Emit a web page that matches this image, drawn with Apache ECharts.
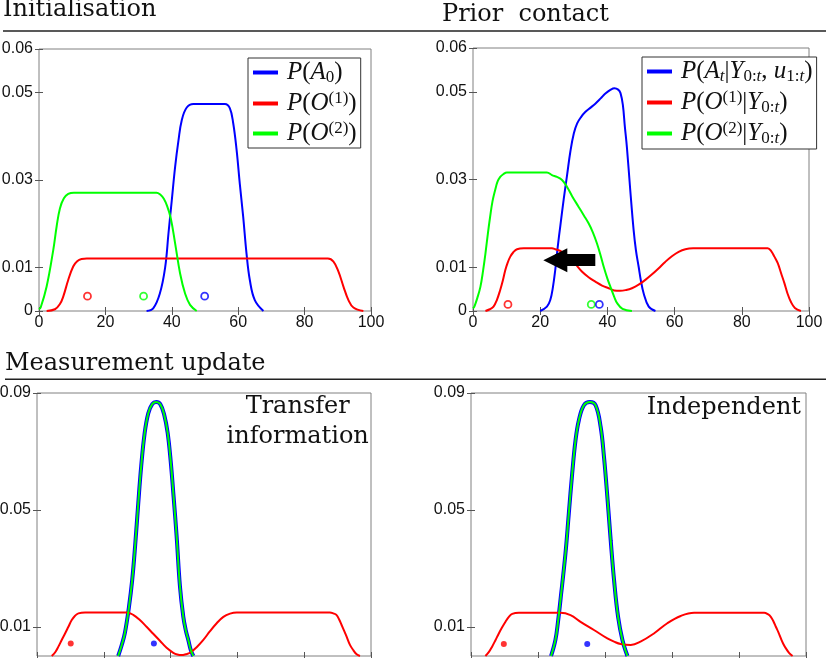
<!DOCTYPE html>
<html>
<head>
<meta charset="utf-8">
<script src="https://cdn.jsdelivr.net/npm/echarts@6/dist/echarts.min.js"></script>
</head>
<body style="margin:0;background:#fff">
<div id="main" style="width:827px;height:658px"></div>
<script>
// tick values / labels
var xTicks = [0, 20, 40, 60, 80, 100];
var yTicksTop = [0, 0.01, 0.03, 0.05, 0.06];
var yTicksBottom = [0.01, 0.05, 0.09];

// Initialisation
var initA0 = [[32.4,0],[34.4,0.0006],[36.4,0.004],[38,0.010],[39,0.0178],[40,0.0254],[41,0.033],[42,0.039],[43,0.0437],[44.5,0.0466],[46.5,0.0474],[56,0.0474],[57.5,0.0464],[58.5,0.043],[59.5,0.037],[60.5,0.029],[61.5,0.0216],[62.5,0.0132],[63.5,0.0071],[65,0.0025],[67.6,0]];
var initO1 = [[2.3,0],[4.8,0.0004],[6.3,0.0016],[7.3,0.0033],[8.8,0.0071],[10.3,0.0102],[11.5,0.0114],[12.8,0.0119],[14.4,0.012],[87,0.012],[88.7,0.0113],[90.2,0.009],[91.7,0.0056],[93.2,0.0025],[94.7,0.0008],[97.7,0]];
var initO2 = [[0,0.0004],[0.5,0.0008],[2.3,0.0056],[4.3,0.014],[5.3,0.0193],[6.3,0.0235],[7.5,0.0258],[8.8,0.0268],[10.5,0.0271],[35.4,0.0271],[36.6,0.0266],[37.6,0.0257],[38.6,0.024],[39.7,0.0212],[41,0.0155],[42.5,0.0086],[44,0.004],[45.5,0.0014],[47.5,0]];
var initMeanA0 = [[49.9,0.0034]];
var initMeanO1 = [[14.6,0.0034]];
var initMeanO2 = [[31.5,0.0034]];

// Prior contact
var priorA = [[20,0],[22,0.001],[23,0.0025],[23.8,0.0055],[24.5,0.0095],[25.2,0.0145],[26,0.0195],[27,0.0255],[28,0.031],[29,0.0365],[30,0.0405],[31,0.0428],[32.2,0.0443],[33.4,0.0454],[35,0.0464],[36.4,0.0473],[38,0.0485],[39.4,0.0496],[41,0.0505],[42.1,0.0508],[43.2,0.0505],[43.9,0.0497],[44.6,0.047],[45.2,0.042],[45.8,0.0374],[46.8,0.0276],[47.8,0.0185],[48.5,0.0138],[49.3,0.0101],[50,0.0068],[50.8,0.004],[52.3,0.001],[54.3,0]];
var priorO1 = [[3.7,0],[5,0.0004],[6.1,0.001],[7.1,0.0025],[8.1,0.0048],[8.9,0.007],[9.6,0.0093],[10.3,0.011],[11.1,0.0124],[12,0.0134],[13.1,0.0141],[15.1,0.0143],[23.5,0.0143],[24.5,0.0141],[26.5,0.0135],[28.5,0.0124],[30.5,0.0107],[32.4,0.009],[34.4,0.0077],[36.4,0.0067],[38.4,0.0058],[40.4,0.0052],[42,0.0047],[43.8,0.0046],[45.6,0.0048],[47.3,0.0052],[49.3,0.006],[51.3,0.0071],[53.2,0.0083],[55.2,0.0097],[57.2,0.0112],[59.2,0.0125],[61.2,0.0135],[63.2,0.0141],[65.5,0.0143],[87.7,0.0143],[88.8,0.0136],[89.7,0.0124],[90.7,0.0109],[91.7,0.0086],[92.7,0.0063],[93.6,0.004],[94.6,0.0021],[95.8,0.0007],[97.6,0]];
var priorO2 = [[0,0.0006],[0.4,0.001],[1.3,0.003],[2.2,0.0055],[3,0.0092],[3.7,0.0131],[4.4,0.0175],[5.1,0.0215],[5.8,0.025],[6.6,0.0276],[7.3,0.0295],[8.1,0.0306],[9,0.0312],[10.1,0.0316],[22,0.0316],[23.5,0.031],[25,0.0306],[26.5,0.0299],[28,0.0283],[29.5,0.0262],[31.4,0.0238],[33,0.0218],[34.4,0.02],[35.7,0.0179],[36.9,0.0154],[38,0.0126],[38.9,0.0101],[40,0.0074],[40.9,0.0055],[42,0.0033],[42.9,0.0018],[44.5,0.0005],[47.3,0]];
var priorMeanA = [[37.6,0.0015]];
var priorMeanO1 = [[10.4,0.0015]];
var priorMeanO2 = [[35.2,0.0015]];
var priorArrow = [[36.4,0.0116],[24.5,0.0116]];

// Measurement update: transfer information
var transA = [[24.3,0],[25.3,0.0035],[26.3,0.0078],[27.5,0.0165],[28.5,0.026],[29.4,0.038],[30.3,0.052],[31.2,0.065],[32.2,0.076],[33.3,0.083],[34.5,0.0862],[35.7,0.0869],[36.9,0.0862],[38.1,0.0825],[39.1,0.0765],[40,0.067],[40.9,0.0545],[41.8,0.041],[42.8,0.0238],[43.8,0.0134],[44.6,0.0085],[45.3,0.0055],[46,0.0022],[46.8,0]];
var transO1 = [[4.4,0],[5.4,0.0012],[6.4,0.0032],[7.4,0.0055],[8.4,0.0077],[9.4,0.01],[10.4,0.0123],[11.4,0.0138],[12.4,0.0146],[14.4,0.0149],[26.8,0.0149],[28.8,0.0141],[30.8,0.0123],[32.8,0.01],[34.8,0.0076],[36.8,0.0052],[38.8,0.0028],[40.8,0.0011],[42,0.0005],[43.3,0.0003],[44.6,0.0006],[45.8,0.0011],[47.8,0.003],[49.8,0.0055],[51.8,0.0085],[53.8,0.0112],[55.8,0.0134],[57.8,0.0145],[59.8,0.0149],[87.7,0.0149],[88.7,0.0146],[89.7,0.014],[90.5,0.0124],[91.2,0.0106],[92,0.0085],[92.7,0.0066],[93.7,0.0038],[94.7,0.002],[95.7,0.0006],[96.7,0]];
var transO2 = transA;
var transMeanA = [[35,0.0043]];
var transMeanO1 = [[10.1,0.0043]];

// Measurement update: independent
var indepA = [[23.9,0],[25.2,0.0055],[26,0.012],[26.7,0.0191],[28.2,0.0351],[29.2,0.0488],[30.2,0.0624],[31.2,0.0738],[32.2,0.0807],[33.7,0.0858],[35.5,0.0869],[37.2,0.0858],[38.7,0.0784],[39.7,0.0681],[40.7,0.0545],[41.7,0.0396],[42.7,0.026],[43.9,0.0134],[45.2,0.0055],[46.7,0]];
var indepO1 = [[4.3,0],[5.3,0.0013],[6.3,0.0032],[7.3,0.0054],[8.3,0.0077],[9.3,0.0098],[10.3,0.0117],[11.3,0.0134],[12.3,0.0144],[14.3,0.0148],[26.7,0.0148],[29.7,0.014],[32.7,0.0117],[36.7,0.0089],[40.7,0.006],[42.7,0.0049],[44.7,0.0041],[47.7,0.0038],[50.6,0.0049],[54.6,0.0077],[58.6,0.0112],[62.6,0.0137],[66.6,0.0148],[87.5,0.0148],[88.6,0.0143],[89.5,0.0134],[90.3,0.0118],[91,0.01],[91.8,0.008],[92.5,0.006],[93.2,0.0042],[94,0.0026],[95,0.001],[96,0]];
var indepO2 = indepA;
var indepMeanA = [[34.7,0.0041]];
var indepMeanO1 = [[9.8,0.0041]];

var BLUE = '#0000ff', RED = '#ff0000', GREEN = '#00ff00';
var BOX = '#808080';
var LABEL_FONT = 'Liberation Sans';
var TITLE_FONT = 'DejaVu Serif';

var grids = [
  {left: 39, top: 49, width: 332, height: 262},
  {left: 473, top: 48, width: 336, height: 263},
  {left: 37, top: 393, width: 334, height: 263},
  {left: 471, top: 393, width: 335, height: 263}
];
grids.forEach(function (g) {
  g.show = true; g.borderColor = BOX; g.borderWidth = 1; g.backgroundColor = '#fff';
  g.containLabel = false; g.outerBoundsMode = 'none';
});

var xAxes = [], yAxes = [];
grids.forEach(function (g, i) {
  var top = i < 2;
  var yMax = top ? 0.06 : 0.09;
  var yLab = top ? yTicksTop : yTicksBottom;
  ['bottom', 'top'].forEach(function (pos) {
    xAxes.push({
      type: 'value', gridIndex: i, position: pos, min: 0, max: 100,
      axisLine: {show: false},
      axisTick: {show: true, inside: true, length: 4, customValues: xTicks, lineStyle: {color: '#555'}},
      axisLabel: {show: pos === 'bottom', customValues: xTicks, margin: 4, fontSize: 16, fontFamily: LABEL_FONT, color: '#111'},
      splitLine: {show: false}
    });
  });
  ['left', 'right'].forEach(function (pos) {
    yAxes.push({
      type: 'value', gridIndex: i, position: pos, min: 0, max: yMax,
      axisLine: {show: false},
      axisTick: {show: true, inside: true, length: 4, customValues: yLab, lineStyle: {color: '#555'}},
      axisLabel: {show: pos === 'left', customValues: yLab, margin: 6, fontSize: 16, fontFamily: LABEL_FONT, color: '#111',
        formatter: function (v) { return String(+v.toFixed(2)); }},
      splitLine: {show: false}
    });
  });
});

function curve(name, data, color, width, gi) {
  return {
    type: 'line', name: name, data: data, xAxisIndex: 2 * gi, yAxisIndex: 2 * gi,
    showSymbol: false, symbol: 'none', smooth: 0.4, silent: true,
    lineStyle: {color: color, width: width}, itemStyle: {color: color}
  };
}
function means(data, color, gi, filled) {
  return {
    type: 'scatter', data: data, xAxisIndex: 2 * gi, yAxisIndex: 2 * gi, silent: true,
    symbol: 'circle', symbolSize: filled ? 6 : 7, z: 5,
    itemStyle: filled ? {color: color} : {color: 'rgba(0,0,0,0)', borderColor: color, borderWidth: 1.8}
  };
}

var priorRed = curve('O1t', priorO1, RED, 2, 1);
priorRed.markLine = {
  silent: true, animation: false, symbol: ['none', 'triangle'], symbolSize: 24,
  label: {show: false}, emphasis: {disabled: true},
  lineStyle: {color: '#000', width: 12, type: 'solid', cap: 'butt'},
  data: [[{coord: priorArrow[0]}, {coord: priorArrow[1]}]]
};

var series = [
  curve('A0', initA0, BLUE, 2, 0),
  curve('O1', initO1, RED, 2, 0),
  curve('O2', initO2, GREEN, 2, 0),
  means(initMeanO1, RED, 0, false),
  means(initMeanO2, GREEN, 0, false),
  means(initMeanA0, BLUE, 0, false),

  curve('At', priorA, BLUE, 2, 1),
  priorRed,
  curve('O2t', priorO2, GREEN, 2, 1),
  means(priorMeanO1, RED, 1, false),
  means(priorMeanO2, GREEN, 1, false),
  means(priorMeanA, BLUE, 1, false),

  curve('trA', transA, BLUE, 4, 2),
  curve('trO1', transO1, RED, 2, 2),
  curve('trO2', transO2, GREEN, 2, 2),
  means(transMeanO1, RED, 2, true),
  means(transMeanA, BLUE, 2, true),

  curve('inA', indepA, BLUE, 4, 3),
  curve('inO1', indepO1, RED, 2, 3),
  curve('inO2', indepO2, GREEN, 2, 3),
  means(indepMeanO1, RED, 3, true),
  means(indepMeanA, BLUE, 3, true)
];

var legendText = {
  A0: '{sp| }{i|P}{n|(}{i|A}{sb|0}{n|)}',
  O1: '{sp| }{i|P}{n|(}{i|O}{sup|(1)}{n|)}',
  O2: '{sp| }{i|P}{n|(}{i|O}{sup|(2)}{n|)}',
  At: '{sp| }{i|P}{n|(}{i|A}{sbi|t}{n||}{i|Y}{sb|0:}{sbi|t}{n|, }{i|u}{sb|1:}{sbi|t}{n|)}',
  O1t: '{sp| }{i|P}{n|(}{i|O}{sup|(1)}{n||}{i|Y}{sb|0:}{sbi|t}{n|)}',
  O2t: '{sp| }{i|P}{n|(}{i|O}{sup|(2)}{n||}{i|Y}{sb|0:}{sbi|t}{n|)}'
};
var rich = {
  sp: {fontSize: 14, lineHeight: 24},
  i: {fontFamily: 'Liberation Serif', fontStyle: 'italic', fontSize: 25, lineHeight: 24, color: '#111'},
  n: {fontFamily: 'Liberation Serif', fontSize: 25, lineHeight: 24, color: '#111'},
  sb: {fontFamily: 'Liberation Serif', fontSize: 17, lineHeight: 14, height: 14, verticalAlign: 'bottom', color: '#111'},
  sbi: {fontFamily: 'Liberation Serif', fontStyle: 'italic', fontSize: 17, lineHeight: 14, height: 14, verticalAlign: 'bottom', color: '#111'},
  sup: {fontFamily: 'Liberation Serif', fontSize: 17, lineHeight: 14, height: 14, verticalAlign: 'top', color: '#111'}
};
function legendBox(names, left, top) {
  return {
    data: names, left: left, top: top, orient: 'vertical', icon: 'rect',
    itemWidth: 25, itemHeight: 4, itemGap: 4, padding: [2, 4, 2, 5],
    borderColor: '#333', borderWidth: 1, backgroundColor: '#fff', selectedMode: false,
    itemStyle: {borderWidth: 0},
    formatter: function (n) { return legendText[n]; },
    textStyle: {rich: rich}
  };
}

function label(text, x, y, size, align) {
  return {type: 'text', x: x, y: y, silent: true, z: 10,
    style: {text: text, fontFamily: TITLE_FONT, fontSize: size, fill: '#111', textAlign: align || 'left', verticalAlign: 'middle', lineHeight: 30}};
}
function rule(y, x1, x2) {
  return {type: 'line', silent: true, shape: {x1: x1, y1: y, x2: x2, y2: y}, style: {stroke: '#222', lineWidth: 1.5}};
}

var chart = echarts.init(document.getElementById('main'), null, {renderer: 'canvas'});
chart.setOption({
  animation: false,
  backgroundColor: '#fff',
  grid: grids,
  xAxis: xAxes,
  yAxis: yAxes,
  legend: [legendBox(['A0', 'O1', 'O2'], 248, 58), legendBox(['At', 'O1t', 'O2t'], 642, 57)],
  series: series,
  graphic: [
    label('Initialisation', 3, 10, 24),
    label('Prior  contact', 442, 15, 24),
    rule(31, 3, 826),
    label('Measurement update', 5, 363.5, 24),
    rule(379.3, 5, 826),
    label('Transfer\ninformation', 297.7, 422, 24, 'center'),
    label('Independent', 801, 408, 24, 'right')
  ]
});
</script>
</body>
</html>
